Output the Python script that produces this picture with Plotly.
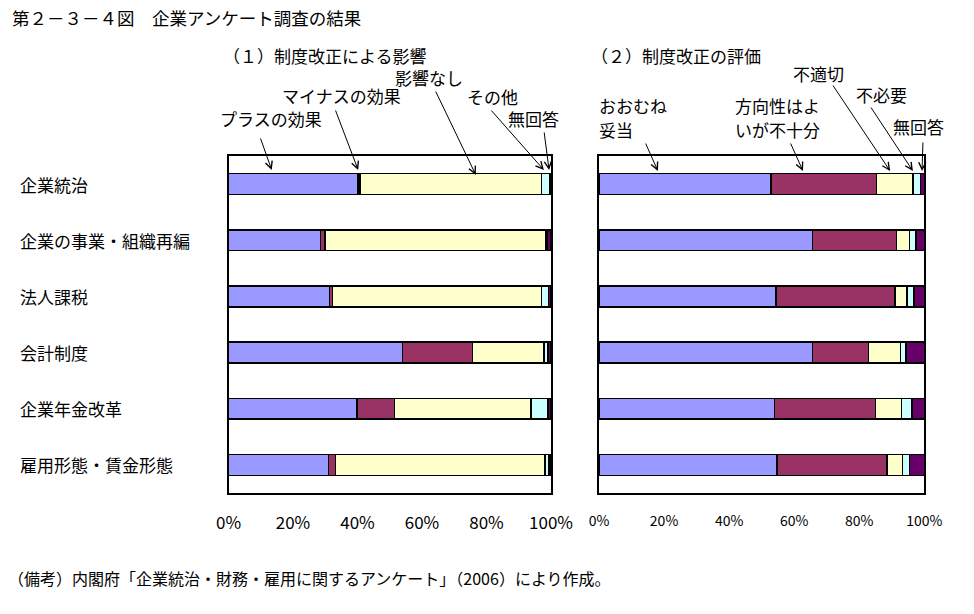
import plotly.graph_objects as go

W, H = 974, 614

# ---------------- data ----------------
categories = ["企業統治", "企業の事業・組織再編", "法人課税", "会計制度", "企業年金改革", "雇用形態・賃金形態"]

p1_names = ["プラスの効果", "マイナスの効果", "影響なし", "その他", "無回答"]
p1_plus = [40.2, 28.5, 31.3, 53.9, 39.9, 31.0]
p1_minus = [0.5, 1.4, 0.9, 21.7, 11.6, 2.2]
p1_none = [56.4, 68.5, 64.9, 22.3, 42.3, 64.9]
p1_other = [2.4, 0.4, 2.1, 1.1, 5.2, 1.3]
p1_na = [0.5, 1.2, 0.8, 1.0, 1.0, 0.6]

p2_names = ["おおむね妥当", "方向性はよいが不十分", "不適切", "不必要", "無回答"]
p2_ok = [52.9, 65.6, 54.5, 65.6, 53.9, 54.8]
p2_dir = [32.4, 25.9, 36.5, 17.3, 31.1, 33.8]
p2_bad = [11.3, 3.9, 3.6, 9.8, 8.0, 4.7]
p2_unneeded = [2.2, 2.1, 2.2, 1.7, 3.3, 2.1]
p2_na = [1.2, 2.5, 3.2, 5.6, 3.7, 4.6]

tick_vals = [0, 20, 40, 60, 80, 100]
tick_text = ["0%", "20%", "40%", "60%", "80%", "100%"]

colors = ["#9999FF", "#993366", "#FFFFCC", "#CCFFFF", "#660066"]

FONT = "Noto Sans CJK JP"


def px(x):
    return x / W


def py(y):
    return 1 - y / H


fig = go.Figure()

for name, vals, col in zip(p1_names, [p1_plus, p1_minus, p1_none, p1_other, p1_na], colors):
    fig.add_trace(go.Bar(name=name, y=categories, x=vals, orientation="h",
                         marker=dict(color=col, line=dict(color="black", width=1.6)),
                         xaxis="x", yaxis="y", showlegend=False, hoverinfo="x+y+name"))

for name, vals, col in zip(p2_names, [p2_ok, p2_dir, p2_bad, p2_unneeded, p2_na], colors):
    fig.add_trace(go.Bar(name=name, y=categories, x=vals, orientation="h",
                         marker=dict(color=col, line=dict(color="black", width=1.6)),
                         xaxis="x2", yaxis="y2", showlegend=False, hoverinfo="x+y+name"))

ydom = [py(493), py(156)]
xdom1 = [px(228.5), px(551)]
xdom2 = [px(599), px(924.3)]

common_x = dict(range=[0, 100], tickvals=tick_vals, ticktext=tick_text, ticks="",
                showgrid=False, zeroline=False, showline=True, linecolor="black",
                linewidth=2, mirror=True, fixedrange=True, ticklabelstandoff=14,
                automargin=False)
common_y = dict(type="category", autorange="reversed", showticklabels=False,
                showgrid=False, zeroline=False, showline=True, linecolor="black",
                linewidth=2, mirror=True, ticks="", domain=ydom, fixedrange=True,
                automargin=False)
top_ticks = dict(range=[0, 100], tickvals=[20, 40, 60, 80], ticks="inside", ticklen=5,
                 tickwidth=1, tickcolor="black", showticklabels=False, showgrid=False,
                 zeroline=False, showline=False, side="top", fixedrange=True,
                 automargin=False)

fig.update_layout(
    template="none",
    width=W, height=H, autosize=False,
    margin=dict(l=0, r=0, t=0, b=0, pad=0, autoexpand=False),
    paper_bgcolor="white", plot_bgcolor="white",
    barmode="stack", bargap=0.63,
    font=dict(family=FONT, color="black", size=16),
    xaxis=dict(domain=xdom1, anchor="y", tickfont=dict(size=17, family=FONT), **common_x),
    xaxis2=dict(domain=xdom2, anchor="y2", tickfont=dict(size=14, family=FONT), **common_x),
    xaxis3=dict(overlaying="x", anchor="y", **top_ticks),
    xaxis4=dict(overlaying="x2", anchor="y2", **top_ticks),
    yaxis=dict(anchor="x", **common_y),
    yaxis2=dict(anchor="x2", **common_y),
    showlegend=False,
)

ann = []
# title
ann.append(dict(text="第２－３－４図　企業アンケート調査の結果", xref="paper", yref="paper",
                x=px(10), y=py(17), xanchor="left", yanchor="middle", showarrow=False,
                font=dict(size=17.5)))
# footnote
ann.append(dict(text="（備考）内閣府「企業統治・財務・雇用に関するアンケート」（2006）により作成。",
                xref="paper", yref="paper", x=px(6), y=py(578), xanchor="left",
                yanchor="middle", showarrow=False, font=dict(size=16)))
# category labels
for c in categories:
    ann.append(dict(text=c, xref="paper", yref="y", x=px(18), y=c, xanchor="left",
                    yanchor="middle", showarrow=False, font=dict(size=17)))

# panel subtitles and series labels (text, x, y in pixels, anchor)
labels = [
    ("（１）制度改正による影響", 325, 55, "center"),
    ("影響なし", 429, 77, "center"),
    ("マイナスの効果", 341, 96, "center"),
    ("その他", 492, 97, "center"),
    ("プラスの効果", 271, 119, "center"),
    ("無回答", 533, 119, "center"),
    ("（２）制度改正の評価", 676, 55, "center"),
    ("不適切", 818, 73, "center"),
    ("不必要", 881, 94, "center"),
    ("おおむね", 597, 106, "left"),
    ("妥当", 597, 129, "left"),
    ("方向性はよ", 733, 106, "left"),
    ("いが不十分", 733, 129, "left"),
    ("無回答", 918, 127, "center"),
]
for t, x, y, anc in labels:
    ann.append(dict(text=t, xref="paper", yref="paper", x=px(x), y=py(y), xanchor=anc,
                    yanchor="middle", align="left", showarrow=False, font=dict(size=17)))

# arrows: (axis, head x in %, head y px, tail x px, tail y px)
arrows = [
    ("x", 13.4, 170, 260, 137),
    ("x", 40.2, 170, 335, 109),
    ("x", 76.7, 175, 435, 90),
    ("x", 97.8, 170, 490, 109),
    ("x", 99.4, 170, 544, 131),
    ("x2", 18.1, 171, 645, 142),
    ("x2", 62.7, 171, 790, 142),
    ("x2", 89.5, 171, 832, 84),
    ("x2", 96.5, 171, 870, 106),
    ("x2", 99.3, 171, 923, 141),
]
for axis, hx, hy, tx, ty in arrows:
    dom = xdom1 if axis == "x" else xdom2
    head_px = (dom[0] + (dom[1] - dom[0]) * hx / 100) * W
    ann.append(dict(text="", xref=axis, yref="paper", x=hx, y=py(hy),
                    ax=tx - head_px, ay=ty - hy, showarrow=True, arrowhead=5,
                    arrowsize=1.4, arrowwidth=1, arrowcolor="black"))

fig.update_layout(annotations=ann)

fig.write_html("out.html", config={"displayModeBar": False},
               post_script="document.body.style.margin='0';document.body.style.overflow='hidden';")
